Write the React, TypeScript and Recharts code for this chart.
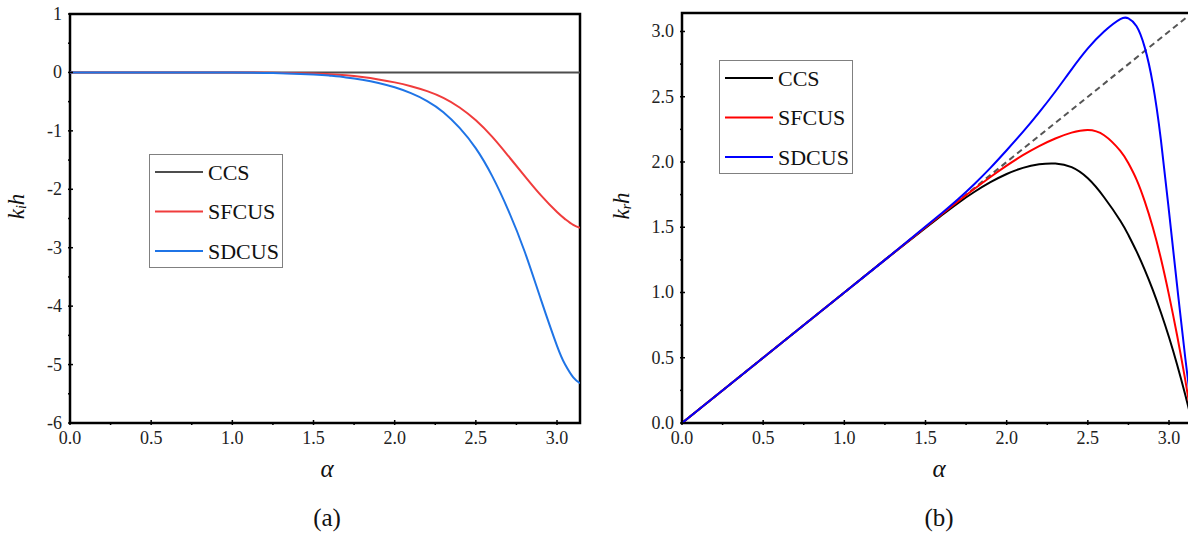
import React from 'react';
import { LineChart, Line, XAxis, YAxis, ReferenceArea, Legend } from 'recharts';

const FONT = "'Liberation Serif', 'DejaVu Serif', 'Times New Roman', serif";
const PI = Math.PI;

// panel (a): imaginary part k_i h
const alphaA = [0, 0.25, 0.5, 0.75, 1.0, 1.25, 1.5, 1.6, 1.7, 1.8, 1.9, 2.0, 2.1, 2.2, 2.3, 2.4, 2.5, 2.6, 2.7, 2.8, 2.9, 3.0, 3.05, 3.1, 3.1416];
const ccsA = [0, 0, 0, 0, 0, 0, 0, 0, 0, 0, 0, 0, 0, 0, 0, 0, 0, 0, 0, 0, 0, 0, 0, 0, 0];
const sfcusA = [0, 0, 0, 0, 0, -0.005, -0.02, -0.03, -0.05, -0.08, -0.12, -0.17, -0.235, -0.32, -0.435, -0.6, -0.82, -1.1, -1.43, -1.77, -2.1, -2.39, -2.51, -2.61, -2.66];
const sdcusA = [0, 0, 0, 0, 0, -0.01, -0.035, -0.055, -0.085, -0.125, -0.18, -0.255, -0.355, -0.49, -0.68, -0.95, -1.3, -1.77, -2.36, -3.06, -3.88, -4.68, -5.0, -5.22, -5.32];

// panel (b): real part k_r h
const alphaB = [0, 0.5, 1.0, 1.25, 1.5, 1.6, 1.7, 1.8, 1.9, 2.0, 2.1, 2.2, 2.3, 2.4, 2.5, 2.6, 2.7, 2.75, 2.8, 2.85, 2.9, 2.95, 3.0, 3.05, 3.1, 3.1416];
const ccsB = [0, 0.5, 1.0, 1.25, 1.495, 1.592, 1.685, 1.77, 1.845, 1.908, 1.955, 1.982, 1.988, 1.96, 1.875, 1.73, 1.55, 1.44, 1.315, 1.175, 1.02, 0.847, 0.657, 0.447, 0.217, 0.01];
const sfcusB = [0, 0.5, 1.0, 1.25, 1.5, 1.6, 1.698, 1.793, 1.885, 1.972, 2.052, 2.122, 2.18, 2.225, 2.245, 2.205, 2.085, 1.99, 1.865, 1.7, 1.5, 1.26, 0.98, 0.67, 0.33, 0.02];
const sdcusB = [0, 0.5, 1.0, 1.25, 1.505, 1.608, 1.715, 1.83, 1.955, 2.09, 2.23, 2.38, 2.54, 2.71, 2.87, 3.0, 3.095, 3.1, 3.04, 2.88, 2.6, 2.17, 1.62, 1.05, 0.5, 0.08];
const exactAlpha = [0, 3.1416];
const exactVal = [0, 3.1416];

const seriesOrder = ['CCS', 'SFCUS', 'SDCUS'];
const xTicks = [0, 0.25, 0.5, 0.75, 1.0, 1.25, 1.5, 1.75, 2.0, 2.25, 2.5, 2.75, 3.0];
const yTicksA = [-6, -5.5, -5, -4.5, -4, -3.5, -3, -2.5, -2, -1.5, -1, -0.5, 0, 0.5, 1];
const yTicksB = [0, 0.25, 0.5, 0.75, 1.0, 1.25, 1.5, 1.75, 2.0, 2.25, 2.5, 2.75, 3.0];

const dataA = alphaA.map((a, i) => ({ a, ccs: ccsA[i], sfcus: sfcusA[i], sdcus: sdcusA[i] }));
const dataB = alphaB.map((a, i) => ({ a, ccs: ccsB[i], sfcus: sfcusB[i], sdcus: sdcusB[i] }));
const exactB = exactAlpha.map((a, i) => ({ a, exact: exactVal[i] }));

const isMajor = (v: number, step: number) => Math.abs(v / step - Math.round(v / step)) < 1e-6;

const XTick = (props: any) => {
  const { x, y, payload } = props;
  const major = isMajor(payload.value, 0.5);
  return (
    <g>
      <line x1={x} x2={x} y1={y} y2={y - (major ? 5 : 3)} stroke="#000" strokeWidth={1.5} />
      {major && (
        <text x={x} y={y + 19} textAnchor="middle" fontSize={18} style={{ fontFamily: FONT }} fill="#222">
          {payload.value.toFixed(1)}
        </text>
      )}
    </g>
  );
};

const makeYTick = (step: number, digits: number) => (props: any) => {
  const { x, y, payload } = props;
  const major = isMajor(payload.value, step);
  return (
    <g>
      <line x1={x} x2={x + (major ? 5 : 3)} y1={y} y2={y} stroke="#000" strokeWidth={1.5} />
      {major && (
        <text x={x - 6} y={y} textAnchor="end" dominantBaseline="central" fontSize={18} style={{ fontFamily: FONT }} fill="#222">
          {payload.value.toFixed(digits)}
        </text>
      )}
    </g>
  );
};

const LegendBox = ({ payload }: any) => {
  const items = (payload || [])
    .filter((p: any) => seriesOrder.includes(p.value))
    .sort((p: any, q: any) => seriesOrder.indexOf(p.value) - seriesOrder.indexOf(q.value));
  return (
    <svg width={134} height={114} style={{ display: 'block' }}>
      <rect x={0.5} y={0.5} width={133} height={113} fill="#fff" stroke="#808080" strokeWidth={1} />
      {items.map((p: any, i: number) => {
        const cy = 18 + i * 39.5;
        return (
          <g key={p.value}>
            <line x1={6} x2={54} y1={cy} y2={cy} stroke={p.color} strokeWidth={2} />
            <text x={59} y={cy} dominantBaseline="central" fontSize={22} style={{ fontFamily: FONT }} fill="#111">{p.value}</text>
          </g>
        );
      })}
    </svg>
  );
};

const xCaption = (tag: string) => (props: any) => {
  const { x, y, width } = props.viewBox;
  const cx = x + width / 2;
  return (
    <g style={{ fontFamily: FONT }} fill="#111">
      <text x={cx + 2} y={y + 54} textAnchor="middle" fontSize={25} fontStyle="italic">α</text>
      <text x={cx + 2} y={y + 103} textAnchor="middle" fontSize={25}>{tag}</text>
    </g>
  );
};

const yCaption = (sub: string, gap: number) => (props: any) => {
  const { x, y, width, height } = props.viewBox;
  const cx = x + width - gap;
  const cy = y + height / 2 - 12;
  return (
    <g transform={`translate(${cx},${cy}) rotate(-90)`}>
      <text x={0} y={0} textAnchor="middle" dominantBaseline="central" fontSize={23} fontStyle="italic" style={{ fontFamily: FONT }} fill="#111">
        k<tspan dy={5} fontSize={14}>{sub}</tspan><tspan dy={-5}>h</tspan>
      </text>
    </g>
  );
};

export default function App() {
  return (
    <div style={{ position: 'absolute', left: 0, top: 0, width: 1188, height: 535, overflow: 'hidden', background: '#fff', fontFamily: FONT }}>
      <div style={{ position: 'absolute', left: 0, top: 0 }}>
        <LineChart width={600} height={535} data={dataA} margin={{ top: 14, right: 20, bottom: 0, left: 0 }}>
          <XAxis dataKey="a" type="number" domain={[0, PI]} allowDataOverflow ticks={xTicks} interval={0}
            tickSize={0} tickLine={false} axisLine={false} height={112} tick={XTick} label={xCaption('(a)')} />
          <YAxis type="number" domain={[-6, 1]} allowDataOverflow ticks={yTicksA} interval={0}
            tickSize={0} tickLine={false} axisLine={false} width={70} tick={makeYTick(1, 0)} label={yCaption('i', 54)} />
          <ReferenceArea x1={0} x2={PI} y1={-6} y2={1} fill="none" stroke="#000" strokeWidth={2.5} ifOverflow="visible" />
          <Line type="natural" dataKey="ccs" name="CCS" stroke="#4d4d4d" strokeWidth={2} dot={false} isAnimationActive={false} />
          <Line type="natural" dataKey="sfcus" name="SFCUS" stroke="#f03c3c" strokeWidth={2} dot={false} isAnimationActive={false} />
          <Line type="natural" dataKey="sdcus" name="SDCUS" stroke="#1f74e6" strokeWidth={2} dot={false} isAnimationActive={false} />
          <Legend layout="horizontal" verticalAlign="middle" align="center" content={LegendBox}
            wrapperStyle={{ left: 149, top: 154, width: 134, height: 114 }} />
        </LineChart>
      </div>
      <div style={{ position: 'absolute', left: 590, top: 0 }}>
        <LineChart width={622} height={535} data={dataB} margin={{ top: 13, right: 20, bottom: 0, left: 22 }}>
          <XAxis dataKey="a" type="number" domain={[0, PI]} allowDataOverflow ticks={xTicks} interval={0}
            tickSize={0} tickLine={false} axisLine={false} height={112} tick={XTick} label={xCaption('(b)')} />
          <YAxis type="number" domain={[0, PI]} allowDataOverflow ticks={yTicksB} interval={0}
            tickSize={0} tickLine={false} axisLine={false} width={70} tick={makeYTick(0.5, 1)} label={yCaption('r', 61)} />
          <ReferenceArea x1={0} x2={PI} y1={0} y2={PI} fill="none" stroke="#000" strokeWidth={2.5} ifOverflow="visible" />
          <Line data={exactB} type="linear" dataKey="exact" name="exact" stroke="#555" strokeWidth={2} strokeDasharray="6 4" dot={false} legendType="none" isAnimationActive={false} />
          <Line type="natural" dataKey="ccs" name="CCS" stroke="#000" strokeWidth={2} dot={false} isAnimationActive={false} />
          <Line type="natural" dataKey="sfcus" name="SFCUS" stroke="#ff0000" strokeWidth={2} dot={false} isAnimationActive={false} />
          <Line type="natural" dataKey="sdcus" name="SDCUS" stroke="#0000ff" strokeWidth={2} dot={false} isAnimationActive={false} />
          <Legend layout="horizontal" verticalAlign="middle" align="center" content={LegendBox}
            wrapperStyle={{ left: 129, top: 60, width: 134, height: 114 }} />
        </LineChart>
      </div>
    </div>
  );
}
